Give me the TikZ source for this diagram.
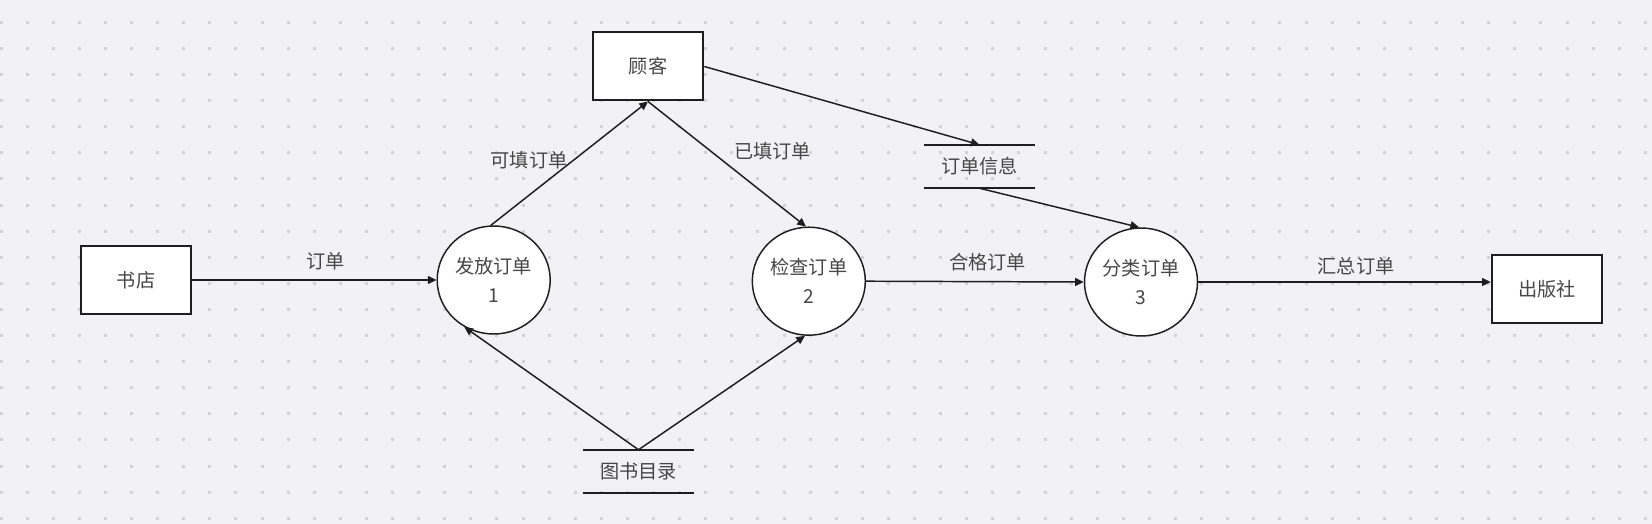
\documentclass[tikz,border=0pt]{standalone}
\usepackage{fontspec}
\setmainfont{Noto Sans CJK SC}
\usetikzlibrary{arrows.meta,shapes.geometric}
\definecolor{bg}{HTML}{F2F2F4}
\definecolor{dotc}{HTML}{D2D2D6}
\definecolor{txt}{HTML}{474747}
\definecolor{ln}{HTML}{1E1E1E}
\begin{document}
\begin{tikzpicture}[x=0.75pt,y=-0.75pt,
 font=\fontsize{14.4}{21.75}\selectfont, text=txt,
 entity/.style={draw=ln, line width=1.5pt, fill=white, minimum width=83pt, minimum height=51pt, inner sep=0pt},
 proc/.style={ellipse, draw=ln, line width=1.1pt, fill=white, minimum width=84.75pt, minimum height=81pt, inner sep=0pt, align=center},
 store/.style={minimum width=83.25pt, minimum height=32.25pt, inner sep=0pt},
 storeline/.style={draw=ln, line width=1.5pt},
 flow/.style={draw=ln, line width=1.1pt, -{Triangle[length=6.5pt,width=6pt]}},
 lbl/.style={inner sep=0pt}
]
\fill[bg] (0,0) rectangle (1652,524);
\useasboundingbox (0,0) rectangle (1652,524);
\foreach \i in {0,...,63}{\foreach \j in {0,...,19}{\fill[dotc] ({1+26.1*\i-1.5},{22.3+26.1*\j-1.5}) rectangle ++(3,3);}}

\node[entity] (sd) at (136,280) {书店};
\node[entity] (gk) at (648,66.5) {顾客};
\node[entity] (cbs) at (1547,289) {出版社};
\node[proc] (c1) at (493.7,280) {发放订单\\1};
\node[proc] (c2) at (808.8,281.2) {检查订单\\2};
\node[proc] (c3) at (1141,282) {分类订单\\3};
\node[store] (ds1) at (979.5,166.5) {订单信息};
\node[store] (ds2) at (638.5,471.5) {图书目录};
\draw[storeline] (ds1.north west) -- (ds1.north east) (ds1.south west) -- (ds1.south east);
\draw[storeline] (ds2.north west) -- (ds2.north east) (ds2.south west) -- (ds2.south east);

\node[lbl] (l1) at (325.8,261.7) {订单};
\node[lbl] (l2) at (529,160.7) {可填订单};
\node[lbl] (l3) at (772.5,151.7) {已填订单};
\node[lbl] (l4) at (987.5,261.7) {合格订单};
\node[lbl] (l5) at (1356,266) {汇总订单};

\draw[flow] (sd.east) -- (c1.west);
\draw[flow] (c1.93) -- (gk.south);
\draw[flow] (gk.south) -- (c2.93);
\draw[flow] (gk.east) -- (ds1.north);
\draw[flow] (ds1.south) -- (c3.92);
\draw[flow] (c2.east) -- (c3.west);
\draw[flow] (c3.east) -- (c3.east -| cbs.west);
\draw[flow] (ds2.north) -- (c1.238);
\draw[flow] (ds2.north) -- (c2.266);
\end{tikzpicture}
\end{document}
